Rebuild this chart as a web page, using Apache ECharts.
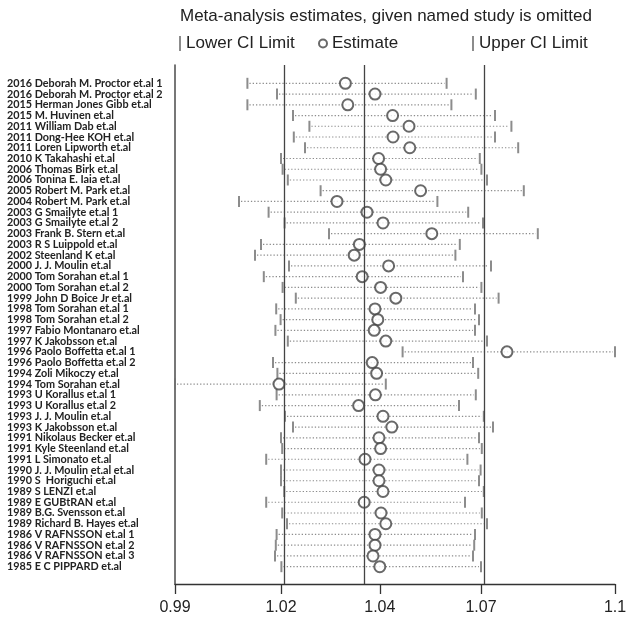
<!DOCTYPE html>
<html>
<head>
<meta charset="utf-8">
<script src="https://cdn.jsdelivr.net/npm/echarts@6/dist/echarts.min.js"></script>
<style>html,body{margin:0;padding:0;background:#fff;}#c{width:630px;height:627px;}</style>
</head>
<body>
<div id="c"></div>
<script>
const studies = [
  '2016 Deborah M. Proctor et.al 1','2016 Deborah M. Proctor et.al 2','2015 Herman Jones Gibb et.al',
  '2015 M. Huvinen et.al','2011 William Dab et.al','2011 Dong-Hee KOH et.al','2011 Loren Lipworth et.al',
  '2010 K Takahashi et.al','2006 Thomas Birk et.al','2006 Tonina E. Iaia et.al','2005 Robert M. Park et.al',
  '2004 Robert M. Park et.al','2003 G Smailyte et.al 1','2003 G Smailyte et.al 2','2003 Frank B. Stern et.al',
  '2003 R S Luippold et.al','2002 Steenland K et.al','2000 J. J. Moulin et.al','2000 Tom Sorahan et.al 1',
  '2000 Tom Sorahan et.al 2','1999 John D Boice Jr et.al','1998 Tom Sorahan et.al 1','1998 Tom Sorahan et.al 2',
  '1997 Fabio Montanaro et.al','1997 K Jakobsson et.al','1996 Paolo Boffetta et.al 1','1996 Paolo Boffetta et.al 2',
  '1994 Zoli Mikoczy et.al','1994 Tom Sorahan et.al','1993 U Korallus et.al 1','1993 U Korallus et.al 2',
  '1993 J. J. Moulin et.al','1993 K Jakobsson et.al','1991 Nikolaus Becker et.al','1991 Kyle Steenland et.al',
  '1991 L Simonato et.al','1990 J. J. Moulin et.al et.al','1990 S  Horiguchi et.al','1989 S LENZI et.al',
  '1989 E GUBtRAN et.al','1989 B.G. Svensson et.al','1989 Richard B. Hayes et.al','1986 V RAFNSSON et.al 1',
  '1986 V RAFNSSON et.al 2','1986 V RAFNSSON et.al 3','1985 E C PIPPARD et.al'
];
const lowerCI = [
  1.0109,1.0183,1.0109,1.0223,1.0264,1.0225,1.0253,1.0193,1.0197,1.0210,1.0292,1.0088,1.0162,1.0202,1.0313,
  1.0143,1.0128,1.0213,1.0150,1.0197,1.0230,1.0181,1.0192,1.0179,1.0210,1.0497,1.0173,1.0184,0.9928,1.0182,
  1.0140,1.0203,1.0223,1.0193,1.0196,1.0156,1.0193,1.0193,1.0201,1.0156,1.0196,1.0208,1.0182,1.0180,1.0178,1.0194
];
const estimate = [
  1.0354,1.0428,1.0360,1.0472,1.0513,1.0473,1.0515,1.0437,1.0442,1.0455,1.0542,1.0333,1.0408,1.0448,1.0570,
  1.0389,1.0376,1.0462,1.0396,1.0442,1.0480,1.0428,1.0435,1.0426,1.0455,1.0758,1.0421,1.0432,1.0188,1.0429,
  1.0387,1.0448,1.0470,1.0438,1.0442,1.0403,1.0438,1.0438,1.0448,1.0401,1.0443,1.0455,1.0428,1.0428,1.0423,1.0440
];
const upperCI = [
  1.0607,1.0680,1.0619,1.0728,1.0769,1.0728,1.0786,1.0690,1.0694,1.0708,1.0800,1.0584,1.0661,1.0698,1.0835,
  1.0640,1.0629,1.0718,1.0648,1.0694,1.0737,1.0678,1.0688,1.0678,1.0708,1.1028,1.0673,1.0686,1.0455,1.0680,
  1.0638,1.0700,1.0723,1.0688,1.0695,1.0659,1.0692,1.0688,1.0700,1.0653,1.0695,1.0708,1.0678,1.0676,1.0673,1.0693
];
// pooled estimate: lower CI, estimate, upper CI
const pooled = [1.0193, 1.0440, 1.0693];
const tickLabels = ['0.99','1.02','1.04','1.07','1.1'];

const xMin = Math.min(...lowerCI);
const xMax = Math.max(...upperCI);
const tickValues = [xMin, pooled[0], pooled[1], pooled[2], xMax];

const ciData = studies.map((s, i) => [lowerCI[i], upperCI[i], i + 1]);
const lowData = studies.map((s, i) => [lowerCI[i], i + 1]);
const upData = studies.map((s, i) => [upperCI[i], i + 1]);
const estData = studies.map((s, i) => [estimate[i], i + 1]);

const FONT = 'Liberation Sans, Arial, sans-serif';
const chart = echarts.init(document.getElementById('c'), null, {renderer: 'canvas'});
chart.setOption({
  animation: false,
  backgroundColor: '#fff',
  title: {
    text: 'Meta-analysis estimates, given named study is omitted',
    left: 180, top: 8, padding: 0,
    textStyle: {fontSize: 17, fontWeight: 'normal', color: '#222', fontFamily: FONT}
  },
  legend: [
    {data: ['Lower CI Limit'], left: 179, top: 35, padding: 0, icon: 'rect', itemWidth: 2, itemHeight: 15,
     textStyle: {fontSize: 17, color: '#222', fontFamily: FONT}},
    {data: ['Estimate'], left: 318, top: 35, padding: 0, icon: 'emptyCircle', itemWidth: 8, itemHeight: 15,
     textStyle: {fontSize: 17, color: '#222', fontFamily: FONT}},
    {data: ['Upper CI Limit'], left: 472, top: 35, padding: 0, icon: 'rect', itemWidth: 2, itemHeight: 15,
     textStyle: {fontSize: 17, color: '#222', fontFamily: FONT}}
  ],
  grid: [
    {left: 175, right: 15, top: 65, bottom: 43, containLabel: false},
    // label band: one category band per study, aligned with the rows of the main grid
    {left: 175, right: 15, top: 77.93, bottom: 54.93, containLabel: false}
  ],
  xAxis: [
    {
      type: 'value', gridIndex: 0, min: xMin, max: xMax,
      axisLine: {show: true, onZero: false, lineStyle: {color: '#333', width: 1.3}},
      axisTick: {show: true, customValues: tickValues, length: 10, lineStyle: {color: '#333', width: 1.3}},
      axisLabel: {
        customValues: tickValues, margin: 16, fontSize: 16, color: '#222', fontFamily: FONT,
        showMinLabel: true, showMaxLabel: true,
        formatter: function (v) {
          let best = 0, d = Infinity;
          tickValues.forEach((t, i) => { if (Math.abs(t - v) < d) { d = Math.abs(t - v); best = i; } });
          return tickLabels[best];
        }
      },
      splitLine: {show: false}
    },
    {type: 'value', gridIndex: 1, show: false, min: xMin, max: xMax}
  ],
  yAxis: [
    {
      type: 'value', gridIndex: 0, inverse: true, min: -0.704, max: 47.611,
      axisLine: {show: true, onZero: false, lineStyle: {color: '#555', width: 1.6}},
      axisTick: {show: false}, splitLine: {show: false}, axisLabel: {show: false}
    },
    {
      type: 'category', gridIndex: 1, inverse: true, data: studies,
      axisLine: {show: false}, axisTick: {show: false}, splitLine: {show: false},
      axisLabel: {
        interval: 0, align: 'left', margin: 168,
        fontSize: 10.8, fontWeight: 'bold', color: '#222',
        fontFamily: 'Lato, Liberation Sans, Arial, sans-serif'
      }
    }
  ],
  series: [
    {
      name: 'CI', type: 'custom', silent: true, z: 1, xAxisIndex: 0, yAxisIndex: 0,
      encode: {x: [0, 1], y: 2},
      renderItem: function (params, api) {
        const y = api.value(2);
        const p1 = api.coord([api.value(0), y]);
        const p2 = api.coord([api.value(1), y]);
        return {type: 'line', shape: {x1: p1[0] + 2, y1: p1[1], x2: p2[0] - 2, y2: p2[1]},
          style: {stroke: '#8c8c8c', lineWidth: 1.2, lineDash: [1.3, 2]}};
      },
      data: ciData,
      markLine: {
        silent: true, symbol: 'none', label: {show: false},
        lineStyle: {color: '#444', width: 1.3, type: 'solid'},
        data: pooled.map(v => ({xAxis: v}))
      }
    },
    {
      name: 'Lower CI Limit', type: 'scatter', symbol: 'rect', symbolSize: [2, 11], z: 2,
      xAxisIndex: 0, yAxisIndex: 0, itemStyle: {color: '#6f6f6f'}, data: lowData
    },
    {
      name: 'Upper CI Limit', type: 'scatter', symbol: 'rect', symbolSize: [2, 11], z: 2,
      xAxisIndex: 0, yAxisIndex: 0, itemStyle: {color: '#6f6f6f'}, data: upData
    },
    {
      name: 'Estimate', type: 'scatter', symbol: 'emptyCircle', symbolSize: 11, z: 3,
      xAxisIndex: 0, yAxisIndex: 0,
      itemStyle: {color: '#444', borderColor: '#444', borderWidth: 1.5}, data: estData
    }
  ]
});
</script>
</body>
</html>
